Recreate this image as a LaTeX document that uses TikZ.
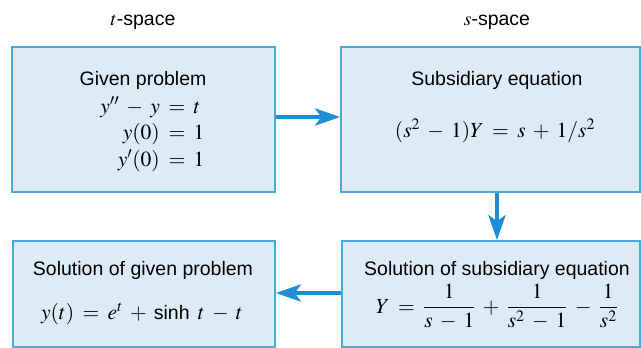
\documentclass[tikz,border=0pt]{standalone}
\usepackage{amsmath}
\usepackage{mathptmx}
\usepackage{fontspec}
\setmainfont{Liberation Sans}
\usetikzlibrary{arrows.meta}
\definecolor{boxfill}{RGB}{220,235,248}
\definecolor{boxline}{RGB}{75,168,220}
\definecolor{arrowc}{RGB}{30,142,212}
\newcommand{\mspacing}{\medmuskip=6mu plus 2mu minus 2mu\thickmuskip=7mu plus 2mu}
\begin{document}
\begin{tikzpicture}[x=1pt,y=-1pt,
  box/.style={draw=boxline,fill=boxfill,line width=1.6pt,inner sep=0pt},
  txt/.style={inner sep=0pt,font=\fontsize{19.5}{23}\selectfont},
  mtxt/.style={inner sep=0pt,font=\fontsize{21.5}{25}\selectfont\mspacing},
  arr/.style={draw=arrowc,line width=4.5pt,-{Stealth[length=25pt,width=17pt,inset=6pt]}}]
\useasboundingbox (0,0) rectangle (641,348);
% boxes
\node[box,minimum width=263pt,minimum height=145pt] (b1) at (143.5,119.5) {};
\node[box,minimum width=299pt,minimum height=145pt] (b2) at (490.5,119.5) {};
\node[box,minimum width=262pt,minimum height=106pt] (b3) at (144,294) {};
\node[box,minimum width=298pt,minimum height=106pt] (b4) at (491,294) {};
% headings
\node[txt,anchor=base] (h1) at (143,25) {$t$-space};
\node[txt,anchor=base] (h2) at (497,25) {$s$-space};
% box 1 text
\node[txt,anchor=base] (t1) at (143,85) {Given problem};
\node[mtxt,anchor=base east] (e1a) at (160,113) {$y''-y$};
\node[mtxt,anchor=base west] (e1b) at (160,113) {${}=t$};
\node[mtxt,anchor=base east] (e2a) at (160,139.5) {$y(0)$};
\node[mtxt,anchor=base west] (e2b) at (160,139.5) {${}=1$};
\node[mtxt,anchor=base east] (e3a) at (160,166) {$y'(0)$};
\node[mtxt,anchor=base west] (e3b) at (160,166) {${}=1$};
% box 2 text
\node[txt,anchor=base] (t2) at (497,85) {Subsidiary equation};
\node[mtxt,anchor=base] (e2) at (495,137) {$(s^2-1)Y=s+1/s^2$};
% box 3 text
\node[txt,anchor=base] (t3) at (143,275) {Solution of given problem};
\node[mtxt,anchor=base] (e3) at (142,319) {$y(t)=e^t+\text{\fontsize{19.5}{23}\selectfont sinh}\;t-t$};
% box 4 text
\node[txt,anchor=base] (t4) at (497,275) {Solution of subsidiary equation};
\node[mtxt] (e4) at (497,307) {$Y=\dfrac{1}{s-1}+\dfrac{1}{s^2-1}-\dfrac{1}{s^2}$};
% arrows
\coordinate (a1s) at (b1.east |- 0,117);
\coordinate (a1e) at (b2.west |- 0,117);
\draw[arr] (a1s) -- (a1e);
\coordinate (a2s) at (497,0 |- b2.south);
\coordinate (a2e) at (497,0 |- b4.north);
\draw[arr] (a2s) -- (a2e);
\coordinate (a3s) at (b4.west |- 0,293);
\coordinate (a3e) at (b3.east |- 0,293);
\draw[arr] (a3s) -- (a3e);
\end{tikzpicture}
\end{document}
